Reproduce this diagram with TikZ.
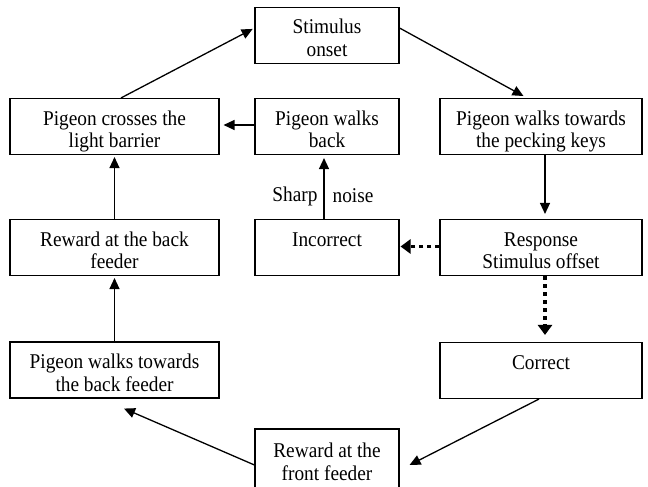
\documentclass[tikz,border=0pt]{standalone}
\usepackage{fontspec}
\setmainfont{Liberation Serif}[FakeStretch=0.92]
\usetikzlibrary{arrows.meta}
\newcommand\tst{\rule{0pt}{25pt}}
\newcommand\bst{\rule[-5.5pt]{0pt}{5.5pt}}
\begin{document}
\begin{tikzpicture}[x=1pt,y=-1pt,
 box/.style={draw, line width=1.1pt, align=center, inner sep=0pt, font=\fontsize{21}{22.5}\selectfont},
 sbox/.style={box, minimum width=144pt, minimum height=56pt},
 wbox/.style={box, minimum width=209pt, minimum height=56pt},
 rbox/.style={box, minimum width=202pt, minimum height=56pt},
 arr/.style={line width=1.3pt, -{Triangle[length=11pt,width=10pt]}},
 darr/.style={line width=3.5pt, dash pattern=on 4pt off 4pt, -{Triangle[length=10pt,width=14pt]}},
 lbl/.style={font=\fontsize{21}{22.5}\selectfont, inner sep=0pt}]
\useasboundingbox (0,0) rectangle (648,487);
\node[sbox] (stim) at (327,35.5) {\tst Stimulus\\onset\bst};
\node[wbox] (cross) at (114.5,126.5) {\tst Pigeon crosses the\\light barrier\bst};
\node[sbox] (back) at (327,126.5) {\tst Pigeon walks\\back\bst};
\node[rbox] (keys) at (541,126.5) {\tst Pigeon walks towards\\the pecking keys\bst};
\node[wbox] (rback) at (114.5,247.5) {\tst Reward at the back\\feeder\bst};
\node[sbox] (inc) at (327,247.5) {\tst Incorrect\\\bst};
\node[rbox] (resp) at (541,247.5) {\tst Response\\Stimulus offset\bst};
\node[wbox] (wback) at (114.5,370) {\tst Pigeon walks towards\\the back feeder\bst};
\node[rbox] (corr) at (541,370.5) {\tst Correct\\\bst};
\node[sbox, minimum height=60pt] (front) at (327,459) {\tst Reward at the\\front feeder\bst};
\node[lbl] (sharp) at (295,196) {Sharp};
\node[lbl] (noise) at (353,196) {noise};
\draw[arr, shorten >=2pt] ([xshift=6.5pt]cross.north) -- ([yshift=7.5pt]stim.west);
\draw[arr, shorten >=4pt] ([yshift=7.5pt]stim.east) -- ([xshift=-14pt]keys.north);
\draw[arr, shorten >=4pt] ([yshift=1.5pt]back.west) -- ([yshift=1.5pt]cross.east);
\draw[arr, shorten >=5pt] ([xshift=4pt]keys.south) -- ([xshift=4pt]resp.north);
\draw[arr, shorten >=3pt] ([xshift=-3pt]inc.north) -- ([xshift=-3pt]back.south);
\draw[arr, shorten >=2pt] (rback.north) -- (cross.south);
\draw[arr, shorten >=2pt] (wback.north) -- (rback.south);
\draw[darr, shorten >=1pt] ([yshift=1pt]resp.west) -- ([yshift=1pt]inc.east);
\draw[darr, shorten >=7pt] ([xshift=4pt]resp.south) -- ([xshift=4pt]corr.north);
\draw[arr] ([xshift=-2pt]corr.south) -- ([xshift=10pt,yshift=-6pt]front.east);
\draw[arr] ([yshift=-6pt]front.west) -- ([xshift=9.5pt,yshift=-10pt]wback.south);
\end{tikzpicture}
\end{document}
